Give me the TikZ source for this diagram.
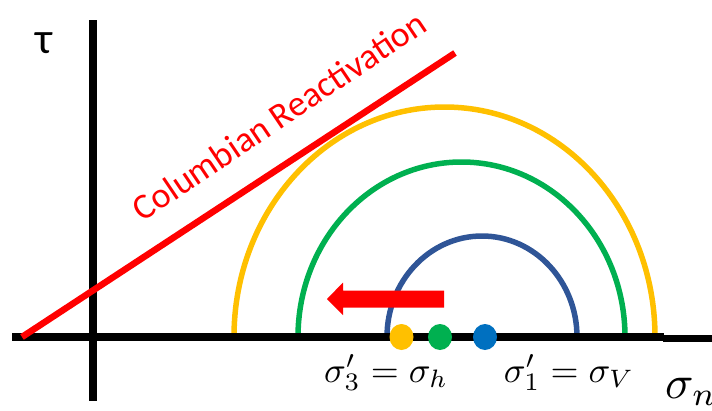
\documentclass[tikz,border=0pt]{standalone}
\usepackage{graphicx}
\usepackage{amsmath}
\usepackage{fontspec}
\setmainfont{Carlito}
\definecolor{ygold}{HTML}{FFC000}
\definecolor{ggreen}{HTML}{00B050}
\definecolor{dblue}{HTML}{2F5597}
\definecolor{mblue}{HTML}{0070C0}
\definecolor{rred}{HTML}{FF0000}
\begin{document}
\begin{tikzpicture}[x=1pt,y=-1pt,
  axis/.style={line width=7.5pt,black},
  circ/.style={line width=5.5pt},
  lab/.style={inner sep=0pt,font=\fontsize{36}{40}\selectfont},
  mlab/.style={inner sep=0pt}]
\useasboundingbox (0,0) rectangle (712,410);
\clip (0,0) rectangle (712,410);
% Mohr circles
\draw[circ,ygold] (234,337) arc[start angle=180,end angle=360,x radius=210.5,y radius=230];
\draw[circ,ggreen] (298,337) arc[start angle=180,end angle=360,x radius=163.5,y radius=175];
\draw[circ,dblue] (387,337) arc[start angle=180,end angle=360,x radius=95,y radius=101];
% axes
\coordinate (hx0) at (12,337);
\coordinate (hx1) at (664,337);
\coordinate (hx2) at (663,338.5);
\coordinate (hx3) at (712,338.5);
\coordinate (vy0) at (93,20);
\coordinate (vy1) at (93,401);
\draw[axis] (hx0) -- (hx1);
\draw[axis] (hx2) -- (hx3);
\draw[axis] (vy0) -- (vy1);
% failure line
\coordinate (r0) at (22,337);
\coordinate (r1) at (455,53);
\draw[rred,line width=6.5pt] (r0) -- (r1);
\node[lab,rred,anchor=base,rotate=34] (cr) at (286,126) {Columbian Reactivation};
% arrow
\fill[rred] (444,290.5) -- (343,290.5) -- (343,282.5) -- (327,299) -- (343,315) -- (343,307.5) -- (444,307.5) -- cycle;
% dots
\fill[ygold] (401.5,337) ellipse[x radius=12,y radius=13];
\fill[ggreen] (440,337) ellipse[x radius=12,y radius=13];
\fill[mblue] (485,337) ellipse[x radius=12,y radius=13];
% labels
\node[lab,anchor=south] (tau) at (44,54) {\fontsize{44}{48}\selectfont τ};
\node[mlab,anchor=base] (s3) at (386,382) {\scalebox{3.6}{$\sigma_3'=\sigma_h$}};
\node[mlab,anchor=base] (s1) at (569,382) {\scalebox{3.6}{$\sigma_1'=\sigma_V$}};
\node[mlab,anchor=base west] (sn) at (665,398) {\scalebox{4.7}{$\sigma_n$}};
\end{tikzpicture}
\end{document}
